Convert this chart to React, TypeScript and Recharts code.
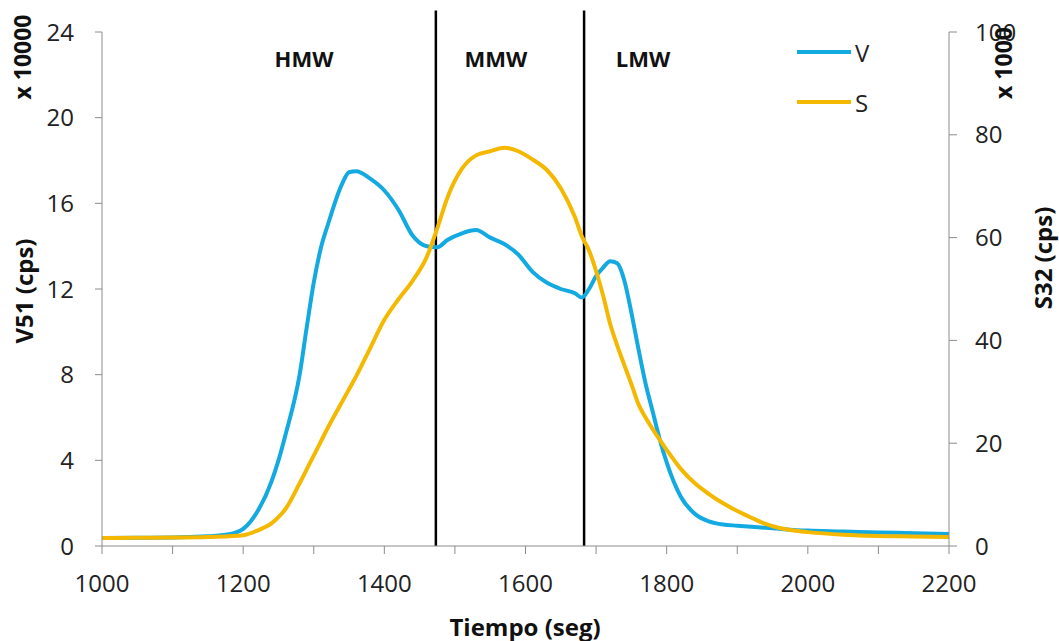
import { LineChart, Line, XAxis, YAxis, ReferenceLine, Legend } from "recharts";

const time = [
  1000, 1050, 1100, 1150, 1180, 1200, 1220, 1240, 1250, 1260, 1280, 1290, 1300, 1310, 1320,
  1340, 1350, 1360, 1380, 1400, 1420, 1440, 1460, 1475, 1490, 1510, 1530, 1550, 1570, 1590,
  1610, 1630, 1650, 1670, 1680, 1690, 1700, 1710, 1720, 1730, 1740, 1750, 1760, 1770, 1780,
  1790, 1800, 1820, 1840, 1860, 1880, 1900, 1920, 1940, 1960, 1980, 2000, 2050, 2100, 2150, 2200,
];

// V51, x 10000 cps (left axis)
const vSeries = [
  0.37, 0.38, 0.4, 0.45, 0.55, 0.8, 1.6, 3.0, 4.0, 5.2, 8.0, 10.2, 12.3, 13.9, 15.0,
  16.9, 17.45, 17.5, 17.15, 16.6, 15.7, 14.5, 14.0, 13.95, 14.3, 14.6, 14.75, 14.4, 14.1, 13.6,
  12.8, 12.3, 12.0, 11.8, 11.6, 12.0, 12.6, 13.0, 13.3, 13.2, 12.4, 10.9, 9.2, 7.6, 6.3,
  5.0, 3.9, 2.3, 1.5, 1.15, 1.0, 0.95, 0.9, 0.85, 0.8, 0.75, 0.72, 0.68, 0.63, 0.6, 0.56,
];

// S32, x 1000 cps (right axis)
const sSeries = [
  1.55, 1.6, 1.65, 1.75, 1.9, 2.1, 3.0, 4.4, 5.6, 7.2, 12.2, 14.9, 17.6, 20.3, 23.0,
  28.0, 30.5, 33.0, 38.5, 44.0, 48.0, 51.6, 56.2, 61.8, 68.0, 73.4, 76.0, 76.8, 77.5, 76.8,
  75.2, 73.2, 69.6, 64.0, 60.2, 57.5, 53.5, 48.7, 43.2, 39.0, 35.2, 31.5, 27.6, 25.0, 22.8,
  20.7, 18.7, 15.0, 12.2, 10.1, 8.3, 6.8, 5.5, 4.3, 3.5, 3.0, 2.7, 2.2, 1.95, 1.85, 1.75,
];

const xTicks = [1000, 1100, 1200, 1300, 1400, 1500, 1600, 1700, 1800, 1900, 2000, 2100, 2200];
const leftTicks = [0, 4, 8, 12, 16, 20, 24];
const rightTicks = [0, 20, 40, 60, 80, 100];
const dividers = [1473, 1683];
const regions = [
  { name: "HMW", x: 304 },
  { name: "MMW", x: 496 },
  { name: "LMW", x: 643 },
];
const legendOrder = ["V", "S"];

const data = time.map((t, i) => ({ t, V: vSeries[i], S: sSeries[i] }));

const FONT = "'Open Sans', sans-serif";
const BLUE = "#13a9e1";
const YELLOW = "#f5b800";
const AXIS = "#8c8c8c";
const tickStyle = { fill: "#222", fontSize: 24, fontFamily: FONT };

function LegendBox(props: any) {
  const items = [...(props.payload || [])].sort(
    (a: any, b: any) => legendOrder.indexOf(a.value) - legendOrder.indexOf(b.value)
  );
  return (
    <div style={{ fontFamily: FONT, fontSize: 24, color: "#222" }}>
      {items.map((it: any) => (
        <div key={it.value} style={{ height: 50, display: "flex", alignItems: "center" }}>
          <svg width={56} height={6}>
            <line x1={0} y1={3} x2={54} y2={3} stroke={it.color} strokeWidth={4} />
          </svg>
          <span style={{ marginLeft: 2 }}>{it.value}</span>
        </div>
      ))}
    </div>
  );
}

export default function App() {
  return (
    <div style={{ position: "relative", width: 1059, height: 641 }}>
      <style>{"body{margin:0}"}</style>
      <LineChart width={1059} height={641} data={data} margin={{ top: 32, right: 0, left: 0, bottom: 0 }}>
        <XAxis
          dataKey="t"
          type="number"
          domain={[1000, 2200]}
          ticks={xTicks}
          interval={0}
          tickFormatter={(v: number) => (v % 200 === 0 ? String(v) : "")}
          height={95}
          tickSize={8}
          tickMargin={21}
          stroke={AXIS}
          tick={tickStyle}
        />
        <YAxis
          yAxisId="left"
          domain={[0, 24]}
          ticks={leftTicks}
          interval={0}
          width={102}
          tickSize={7}
          tickMargin={21}
          stroke={AXIS}
          tick={tickStyle}
        />
        <YAxis
          yAxisId="right"
          orientation="right"
          domain={[0, 100]}
          ticks={rightTicks}
          interval={0}
          width={110}
          tickSize={8}
          tickMargin={18}
          stroke={AXIS}
          tick={tickStyle}
        />
        {dividers.map((x) => (
          <ReferenceLine
            key={x}
            yAxisId="left"
            segment={[{ x, y: 0 }, { x, y: 25 }]}
            ifOverflow="visible"
            stroke="#000"
            strokeWidth={2.5}
          />
        ))}
        <Line
          yAxisId="left"
          type="monotone"
          dataKey="V"
          name="V"
          stroke={BLUE}
          strokeWidth={4}
          dot={false}
          isAnimationActive={false}
        />
        <Line
          yAxisId="right"
          type="monotone"
          dataKey="S"
          name="S"
          stroke={YELLOW}
          strokeWidth={4}
          dot={false}
          isAnimationActive={false}
        />
        <Legend
          layout="vertical"
          align="center"
          verticalAlign="middle"
          content={LegendBox}
          wrapperStyle={{ position: "absolute", left: 797, top: 27, width: 120, height: 100 }}
        />
      </LineChart>
      <svg
        width={1059}
        height={641}
        style={{ position: "absolute", left: 0, top: 0, pointerEvents: "none" }}
        fontFamily={FONT}
        fontWeight="bold"
        fill="#111"
      >
        <text x={22} y={57} fontSize={23} textAnchor="middle" dominantBaseline="central" transform="rotate(-90 22 57)">
          x 10000
        </text>
        <text x={23} y={291} fontSize={24} textAnchor="middle" dominantBaseline="central" transform="rotate(-90 23 291)">
          V51 (cps)
        </text>
        <text x={1003} y={63} fontSize={23} textAnchor="middle" dominantBaseline="central" transform="rotate(-90 1003 63)">
          x 1000
        </text>
        <text x={1042} y={258} fontSize={24} textAnchor="middle" dominantBaseline="central" transform="rotate(-90 1042 258)">
          S32 (cps)
        </text>
        <text x={525} y={626} fontSize={24} textAnchor="middle" dominantBaseline="central">
          Tiempo (seg)
        </text>
        {regions.map((r) => (
          <text key={r.name} x={r.x} y={58} fontSize={22} textAnchor="middle" dominantBaseline="central">
            {r.name}
          </text>
        ))}
      </svg>
    </div>
  );
}
